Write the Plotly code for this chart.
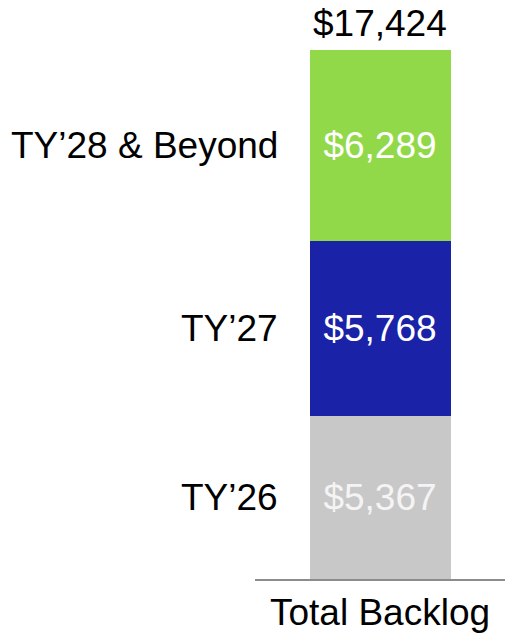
import plotly.graph_objects as go

# Backlog data ($M)
CATEGORY = ["Total Backlog"]
SEGMENTS = ["TY\u201926", "TY\u201927", "TY\u201928 & Beyond"]
VALUES = [5367, 5768, 6289]
COLORS = ["#c8c8c8", "#1a22a8", "#92d94a"]
TEXT_COLORS = ["#f4f4f4", "#ffffff", "#ffffff"]

FONT = "Liberation Sans, Arial, sans-serif"
SIZE = 37
total = sum(VALUES)

fig = go.Figure()
for name, val, col, tcol in zip(SEGMENTS, VALUES, COLORS, TEXT_COLORS):
    fig.add_trace(go.Bar(
        x=CATEGORY, y=[val], name=name,
        marker=dict(color=col, line=dict(width=0)),
        text=[f"${val:,}"], textposition="inside", insidetextanchor="middle",
        textfont=dict(color=tcol, size=SIZE, family=FONT),
        width=0.564,
    ))

# segment names to the left of the bar, centered on each segment
base = 0
for name, val in zip(SEGMENTS, VALUES):
    fig.add_annotation(
        x=CATEGORY[0], y=base + val / 2, text=name, showarrow=False,
        xanchor="right", yanchor="middle", xshift=-100,
        font=dict(size=SIZE, color="#000000", family=FONT),
    )
    base += val

# total above the bar
fig.add_annotation(
    x=CATEGORY[0], y=total, text=f"${total:,}", showarrow=False,
    xanchor="center", yanchor="bottom", yshift=4,
    font=dict(size=SIZE, color="#000000", family=FONT),
)

fig.update_layout(
    barmode="stack",
    width=505, height=633,
    margin=dict(l=255, r=0, t=50, b=54, autoexpand=False),
    plot_bgcolor="white", paper_bgcolor="white",
    showlegend=False,
    font=dict(family=FONT, size=SIZE, color="#000000"),
    uniformtext=dict(minsize=SIZE, mode="show"),
)
fig.update_xaxes(
    showline=True, linecolor="#8c8c8c", linewidth=2,
    ticks="", ticklen=0, automargin=False,
    tickfont=dict(size=SIZE, family=FONT, color="#000000"),
    showgrid=False, zeroline=False,
)
fig.update_yaxes(range=[0, total], visible=False, showgrid=False, automargin=False)

# drop the browser's default body margin so the figure sits at the page origin
fig.write_html(
    "out.html",
    config={"displayModeBar": False},
    post_script="document.body.style.margin='0';document.body.style.overflow='hidden';",
)
